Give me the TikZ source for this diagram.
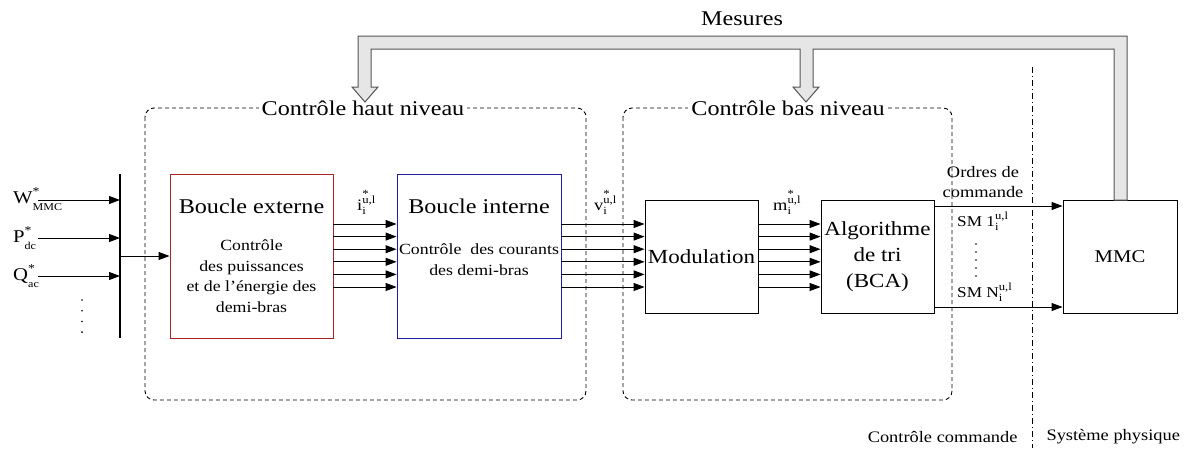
\documentclass[tikz,border=0pt]{standalone}
\usepackage{fontspec}
\setmainfont{Liberation Serif}[FakeStretch=1.15]
\usetikzlibrary{arrows.meta}
\definecolor{boxred}{RGB}{165,35,35}
\definecolor{boxblue}{RGB}{30,30,165}
\definecolor{fatfill}{RGB}{230,230,230}
\definecolor{fatdraw}{RGB}{85,85,85}
\newcommand\fsz[2]{\fontsize{#1}{#2}\selectfont}
% base letter with subscript i, superscript u,l and a star above
\newcommand\sigl[1]{#1\rlap{\raisebox{-4.5pt}{\fsz{11}{11}i}}\rlap{\raisebox{12.5pt}{\fsz{11}{11}*}}\raisebox{7pt}{\fsz{11}{11}u,l}}
\newcommand\ulsub{\rlap{\raisebox{-4.5pt}{\fsz{11}{11}i}}\raisebox{7pt}{\fsz{11}{11}u,l}}
\newcommand\inlab[2]{#1\rlap{\raisebox{-7pt}{\fsz{10.5}{11}#2}}\raisebox{8pt}{\fsz{12}{12}*}}
\tikzset{
  blk/.style={draw, line width=0.9pt, inner sep=0pt},
  arr/.style={line width=0.9pt, -{Triangle[length=11pt,width=8pt]}},
  grp/.style={draw, line width=0.9pt, dash pattern=on 4pt off 3pt, rounded corners=9pt},
  grptitle/.style={fill=white, inner xsep=3pt, inner ysep=1pt, font=\fsz{21}{24}},
  fat/.style={draw=fatdraw, fill=fatfill, line width=1pt, line join=miter},
  sep/.style={line width=0.9pt, dash pattern=on 6pt off 3pt on 1pt off 3pt},
  vdots/.style={line width=1.8pt, line cap=round},
  lab/.style={anchor=base west, inner sep=0pt},
}
\begin{document}
\begin{tikzpicture}[x=1pt,y=-1pt]
\useasboundingbox (0,0) rectangle (1189,448);

% group boxes
\draw[grp] (145,108) rectangle (586,400);
\draw[grp] (623,108) rectangle (952,400);
\node[grptitle] (th) at (363,108) {Contrôle haut niveau};
\node[grptitle] (tb) at (788,108) {Contrôle bas niveau};

% separator
\draw[sep] (1032,67) -- (1032,448);
\node[anchor=east, font=\fsz{16}{18}] (cc) at (1021,437) {Contrôle commande};
\node[anchor=west, font=\fsz{16}{18}] (sp) at (1043,437) {Système physique};

% blocks
\node[blk, draw=boxred, minimum width=163pt, minimum height=164pt] (ext) at (251.5,256) {};
\node[blk, draw=boxblue, minimum width=164pt, minimum height=164pt] (int) at (479,256) {};
\node[blk, minimum width=113pt, minimum height=113pt] (mod) at (701.5,256.5) {};
\node[blk, minimum width=113pt, minimum height=113pt] (bca) at (877.5,256.5) {};
\node[blk, minimum width=114pt, minimum height=113pt] (mmc) at (1120,256.5) {};

\node[font=\fsz{21}{24}] (extT) at (251.5,206) {Boucle externe};
\node[font=\fsz{15.5}{20.5}, align=center] (extS) at (251.5,276) {Contrôle\\des puissances\\et de l'énergie des\\demi-bras};
\node[font=\fsz{21}{24}] (intT) at (479,206) {Boucle interne};
\node[font=\fsz{15.5}{21}, align=center] (intS) at (479,259.5) {Contrôle\ \ des courants\\des demi-bras};
\node[font=\fsz{20}{24}] (modT) at (mod) {Modulation};
\node[font=\fsz{20}{26}, align=center] (bcaT) at (bca) {Algorithme\\de tri\\(BCA)};
\node[font=\fsz{18}{22}] (mmcT) at (mmc) {MMC};

% multi arrows
\foreach \k in {0,...,5}{
  \pgfmathsetmacro\yy{224+12.6*\k}
  \draw[arr] (ext.east |- 0,\yy) -- (int.west |- 0,\yy);
  \draw[arr] (int.east |- 0,\yy) -- (mod.west |- 0,\yy);
  \draw[arr] (mod.east |- 0,\yy) -- (bca.west |- 0,\yy);
}
\node[lab, font=\fsz{16}{18}] (il) at (357,210) {\sigl{i}};
\node[lab, font=\fsz{16}{18}] (vl) at (594,210) {\sigl{v}};
\node[lab, font=\fsz{16}{18}] (ml) at (773,210) {\sigl{m}};

% inputs
\coordinate (bt) at (120,174);
\coordinate (bb) at (120,338);
\draw[line width=2.6pt] (bt) -- (bb);
\coordinate (win) at (38,200);
\coordinate (pin) at (38,238);
\coordinate (qin) at (38,276);
\node[lab, font=\fsz{18}{20}] (wl) at (13,203) {\inlab{W}{MMC}};
\node[lab, font=\fsz{18}{20}] (pl) at (13,242) {\inlab{P}{dc}};
\node[lab, font=\fsz{18}{20}] (ql) at (13,280) {\inlab{Q}{ac}};
\draw[arr] (win) -- (win -| bt);
\draw[arr] (pin) -- (pin -| bt);
\draw[arr] (qin) -- (qin -| bt);
\draw[vdots, dash pattern=on 0pt off 10.7pt] (82,300) -- (82,333);
\draw[arr] (120,256) -- (ext.west);

% commands to MMC
\draw[arr] (bca.east |- 0,206) -- (mmc.west |- 0,206);
\draw[arr] (bca.east |- 0,307) -- (mmc.west |- 0,307);
\node[font=\fsz{16}{20}, align=center] (ord) at (983,182) {Ordres de\\commande};
\node[lab, font=\fsz{15}{18}] (sm1) at (957,226) {SM 1\ulsub};
\node[lab, font=\fsz{15}{18}] (smn) at (957,297) {SM N\ulsub};
\draw[vdots, dash pattern=on 0pt off 8pt] (976,244) -- (976,277);

% measurement fat arrow
\draw[fat] (365,102) -- (378,87) -- (371,87) -- (371,49) -- (800,49) -- (800,87)
  -- (793,87) -- (806,102) -- (819,87) -- (813,87) -- (813,49) -- (1114,49)
  -- (1114,200) -- (1127,200) -- (1127,36) -- (358,36) -- (358,87) -- (352,87) -- cycle;
\node[font=\fsz{21}{24}] (mes) at (742,19) {Mesures};
\end{tikzpicture}
\end{document}
